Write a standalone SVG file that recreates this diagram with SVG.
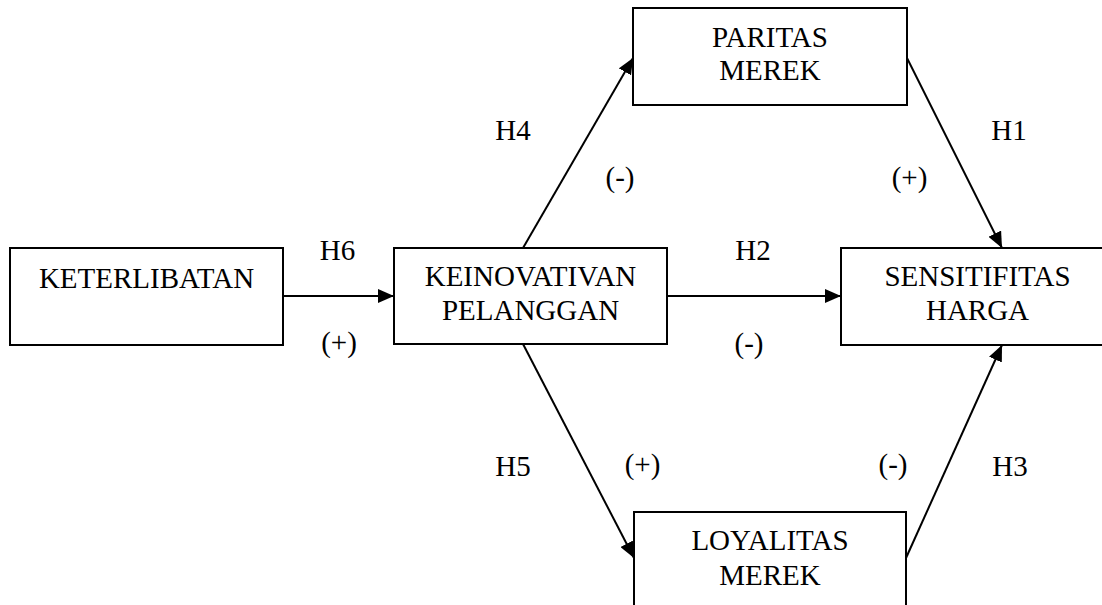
<svg xmlns="http://www.w3.org/2000/svg" width="1102" height="605" viewBox="0 0 1102 605">
<style>
.box{fill:#fff;stroke:#000;stroke-width:2}
.t{font-family:'Liberation Serif';font-size:29px;fill:#000;text-anchor:middle}
.e{stroke:#000;stroke-width:2;fill:none;marker-end:url(#ah)}
</style>
<defs>
<marker id="ah" markerUnits="userSpaceOnUse" markerWidth="16" markerHeight="14" refX="16" refY="7" orient="auto">
<path d="M0,0 L16,7 L0,14 Z" fill="#000"/>
</marker>
</defs>
<rect width="1102" height="605" fill="#fff"/>
<g id="connectors">
<line class="e" x1="283" y1="296" x2="394" y2="296"/>
<line class="e" x1="667" y1="296" x2="841" y2="296"/>
<line class="e" x1="523" y1="248" x2="633" y2="58"/>
<line class="e" x1="907" y1="58" x2="1002" y2="248"/>
<line class="e" x1="523" y1="344" x2="634" y2="558"/>
<line class="e" x1="906" y1="558" x2="1002" y2="345"/>
</g>
<g font-family="Liberation Serif">
<g id="keterlibatan">
<rect class="box" x="10" y="248" width="273" height="97"/>
<text class="t" x="146.5" y="288">KETERLIBATAN</text>
</g>
<g id="keinovativan">
<rect class="box" x="394" y="248" width="273" height="96"/>
<text class="t" x="530.5" y="286">KEINOVATIVAN</text>
<text class="t" x="530.5" y="320">PELANGGAN</text>
</g>
<g id="paritas">
<rect class="box" x="633" y="8" width="274" height="97"/>
<text class="t" x="770" y="47">PARITAS</text>
<text class="t" x="770" y="80">MEREK</text>
</g>
<g id="sensitifitas">
<rect class="box" x="841" y="248" width="273" height="97"/>
<text class="t" x="977.5" y="286">SENSITIFITAS</text>
<text class="t" x="977.5" y="320">HARGA</text>
</g>
<g id="loyalitas">
<rect class="box" x="634" y="512" width="272" height="100"/>
<text class="t" x="770" y="550">LOYALITAS</text>
<text class="t" x="770" y="585">MEREK</text>
</g>
<g id="labels">
<text class="t" x="337.5" y="260">H6</text>
<text class="t" x="339" y="352">(+)</text>
<text class="t" x="513" y="140">H4</text>
<text class="t" x="620" y="187">(-)</text>
<text class="t" x="1009" y="140">H1</text>
<text class="t" x="909.5" y="187">(+)</text>
<text class="t" x="753" y="260">H2</text>
<text class="t" x="749" y="353">(-)</text>
<text class="t" x="513" y="476">H5</text>
<text class="t" x="642.5" y="474">(+)</text>
<text class="t" x="893" y="474">(-)</text>
<text class="t" x="1010" y="476">H3</text>
</g>
</g>
</svg>
